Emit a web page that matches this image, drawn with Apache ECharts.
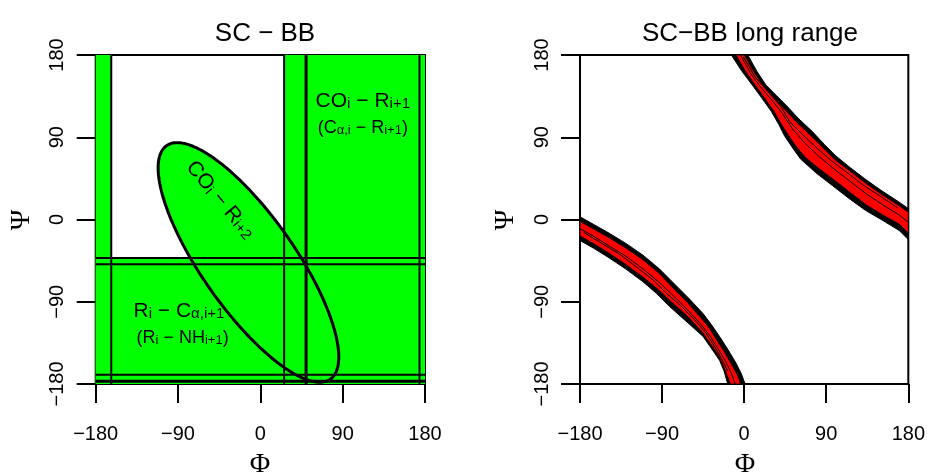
<!DOCTYPE html>
<html>
<head>
<meta charset="utf-8">
<script src="https://cdn.jsdelivr.net/npm/echarts@6/dist/echarts.min.js"></script>
<style>
  html, body { margin: 0; padding: 0; background: #fff; }
  #chart { width: 928px; height: 474px; }
</style>
</head>
<body>
<div id="chart"></div>
<script>
// Backbone dihedral axes (degrees)
const angleTicks = [-180, -90, 0, 90, 180];
const angleTickLabels = ['\u2212180', '\u221290', '0', '90', '180'];
const phiName = '\u03A6';
const psiName = '\u03A8';
const panelTitles = ['SC \u2212 BB', 'SC\u2212BB long range'];

// SC–BB: allowed contact regions in (Φ, Ψ)
const phiStrips = [[-180, -163], [26, 180]];      // Φ ranges of vertical strips
const psiStrips = [[-180, -42]];                  // Ψ ranges of horizontal strip
const phiBoundaries = [-163, 26, 50, 174];
const psiBoundaries = [-42, -49, -170, -177];
const ellipseCOR2 = { phi: -13, psi: -47, major: 156, minor: 51, tilt: 125 };

// SC–BB long range: contact bands (edges as [Φ, Ψ])
const upperBandOuterHigh = [[4, 180], [14, 162], [24, 147], [35, 136], [46, 125], [60, 110], [75, 96], [88, 82], [100, 70], [116, 57], [133, 44], [150, 32], [170, 19], [180, 12]];
const upperBandOuterLow  = [[-14, 180], [-3, 163], [9, 147], [20, 132], [30, 118], [38, 104], [44, 92], [52, 80], [62, 66], [80, 50], [97, 37], [115, 23], [133, 10], [152, -1], [170, -12], [180, -22]];
const upperBandRedHigh   = [[0, 180], [11, 161], [21, 146], [32, 134], [44, 121], [58, 106], [73, 92], [87, 78], [99, 66], [116, 53], [133, 40], [150, 28], [170, 15], [180, 8]];
const upperBandRedLow    = [[-9, 180], [1, 163], [12, 147], [23, 132], [33, 118], [41, 104], [48, 93], [57, 80], [67, 68], [83, 55], [99, 43], [117, 29], [134, 16], [152, 5], [170, -5], [180, -15]];
const upperBandStreakA   = [[-4, 180], [7, 160], [18, 145], [30, 131], [42, 116], [53, 99], [66, 84], [82, 69], [99, 55], [117, 41], [134, 28], [152, 16], [170, 5], [180, -3]];
const upperBandStreakB   = [[-1, 178], [12, 156], [26, 140], [40, 124], [50, 107], [64, 93], [80, 78], [96, 64], [112, 52], [130, 38], [150, 25], [168, 13]];

const lowerBandOuterHigh = [[-180, 3], [-164, -6], [-148, -15], [-130, -26], [-111, -39], [-93, -54], [-75, -72], [-60, -87], [-45, -103], [-36, -115], [-27, -128], [-18, -142], [-9, -157], [-3, -169], [1, -180]];
const lowerBandOuterLow  = [[-180, -23], [-164, -32], [-148, -42], [-130, -54], [-111, -68], [-96, -81], [-82, -95], [-64, -111], [-45, -128], [-36, -141], [-27, -154], [-22, -166], [-18, -180]];
const lowerBandRedHigh   = [[-180, -2], [-164, -11], [-148, -20], [-130, -31], [-111, -44], [-93, -59], [-77, -76], [-62, -91], [-48, -107], [-38, -119], [-30, -132], [-21, -146], [-13, -160], [-7, -171], [-4, -180]];
const lowerBandRedLow    = [[-180, -18], [-164, -27], [-148, -37], [-130, -49], [-111, -63], [-95, -76], [-80, -90], [-62, -106], [-46, -123], [-37, -136], [-28, -149], [-22, -162], [-15, -180]];
const lowerBandStreakA   = [[-180, -10], [-164, -19], [-148, -29], [-130, -40], [-111, -54], [-94, -68], [-78, -83], [-62, -99], [-47, -115], [-37, -128], [-29, -141], [-21, -154], [-14, -168], [-10, -180]];
const lowerBandStreakB   = [[-176, -14], [-158, -25], [-138, -37], [-118, -52], [-100, -66], [-86, -80], [-70, -94], [-54, -110], [-42, -124], [-33, -138], [-25, -152], [-18, -166]];

const GREEN = '#00ff00';
const RED = '#ff0000';
const SANS = '"Liberation Sans", Arial, Helvetica, sans-serif';
const SERIF = '"Liberation Serif", "Times New Roman", serif';

const chart = echarts.init(document.getElementById('chart'), null, { renderer: 'canvas' });

function tickFormatter(v) {
  const i = angleTicks.indexOf(v);
  return i >= 0 ? angleTickLabels[i] : '';
}

function makeXAxis(gridIndex) {
  return {
    type: 'value', gridIndex, min: -180, max: 180, interval: 90,
    axisLine: { show: true, onZero: false, lineStyle: { color: '#000', width: 2 } },
    axisTick: { show: true, inside: false, length: 19, lineStyle: { color: '#000', width: 2 } },
    axisLabel: { margin: 40, fontFamily: SANS, fontSize: 20, color: '#000', formatter: tickFormatter },
    splitLine: { show: false }
  };
}

function makeYAxis(gridIndex) {
  return {
    type: 'value', gridIndex, min: -180, max: 180, interval: 90,
    axisLine: { show: true, onZero: false, lineStyle: { color: '#000', width: 2 } },
    axisTick: { show: true, inside: false, length: 19, lineStyle: { color: '#000', width: 2 } },
    axisLabel: { margin: 28, rotate: 90, fontFamily: SANS, fontSize: 20, color: '#000', formatter: tickFormatter },
    splitLine: { show: false }
  };
}

// Rich text styles for subscripted labels
function richStyles(main, sub) {
  return {
    m: { fontSize: main, fontFamily: SANS, fill: '#000', lineHeight: main + 2, verticalAlign: 'bottom' },
    s: { fontSize: sub, fontFamily: SANS, fill: '#000', lineHeight: sub - 4, verticalAlign: 'bottom' }
  };
}

function labelEl(api, phi, psi, text, main, sub, rotationDeg) {
  const p = api.coord([phi, psi]);
  return {
    type: 'text', x: p[0], y: p[1], rotation: (rotationDeg || 0) * Math.PI / 180,
    style: { text, rich: richStyles(main, sub), align: 'center', verticalAlign: 'middle', fill: '#000' }
  };
}

function renderLeft(params, api) {
  const children = [];
  // green strips
  phiStrips.forEach(([a, b]) => {
    const p0 = api.coord([a, 180]), p1 = api.coord([b, -180]);
    children.push({ type: 'rect', shape: { x: p0[0], y: p0[1], width: p1[0] - p0[0], height: p1[1] - p0[1] }, style: { fill: GREEN } });
  });
  psiStrips.forEach(([a, b]) => {
    const p0 = api.coord([-180, b]), p1 = api.coord([180, a]);
    children.push({ type: 'rect', shape: { x: p0[0], y: p0[1], width: p1[0] - p0[0], height: p1[1] - p0[1] }, style: { fill: GREEN } });
  });
  // tilted ellipse outline
  const e = ellipseCOR2, th = e.tilt * Math.PI / 180;
  const pts = [];
  for (let k = 0; k < 180; k++) {
    const t = k / 180 * 2 * Math.PI;
    const u = e.major * Math.cos(t), v = e.minor * Math.sin(t);
    pts.push(api.coord([e.phi + u * Math.cos(th) - v * Math.sin(th), e.psi + u * Math.sin(th) + v * Math.cos(th)]));
  }
  children.push({ type: 'polygon', shape: { points: pts }, style: { fill: GREEN } });
  // region boundaries
  phiBoundaries.forEach((phi) => {
    const p0 = api.coord([phi, 180]), p1 = api.coord([phi, -180]);
    children.push({ type: 'line', shape: { x1: p0[0], y1: p0[1], x2: p1[0], y2: p1[1] }, style: { stroke: '#000', lineWidth: phi === 50 ? 3 : 2 } });
  });
  psiBoundaries.forEach((psi) => {
    const p0 = api.coord([-180, psi]), p1 = api.coord([180, psi]);
    children.push({ type: 'line', shape: { x1: p0[0], y1: p0[1], x2: p1[0], y2: p1[1] }, style: { stroke: '#000', lineWidth: psi === -177 ? 3 : 2 } });
  });
  children.push({ type: 'polygon', shape: { points: pts }, style: { fill: null, stroke: '#000', lineWidth: 3 } });
  // labels
  children.push(labelEl(api, 112, 131, '{m|CO}{s|i}{m| \u2212 R}{s|i+1}', 21, 15));
  children.push(labelEl(api, 112, 101, '{m|(C}{s|\u03B1,i}{m| \u2212 R}{s|i+1}{m|)}', 18, 13));
  children.push(labelEl(api, -89, -99, '{m|R}{s|i}{m| \u2212 C}{s|\u03B1,i+1}', 21, 15));
  children.push(labelEl(api, -85, -129, '{m|(R}{s|i}{m| \u2212 NH}{s|i+1}{m|)}', 18, 13));
  children.push(labelEl(api, -43, 22, '{m|CO}{s|i}{m| \u2212 R}{s|i+2}', 21, 15, -50));
  return { type: 'group', children };
}

function band(api, high, low, fill, lw) {
  const pts = high.map((p) => api.coord(p)).concat(low.slice().reverse().map((p) => api.coord(p)));
  return { type: 'polygon', shape: { points: pts }, style: { fill, stroke: '#000', lineWidth: lw } };
}

function streak(api, line) {
  return { type: 'polyline', shape: { points: line.map((p) => api.coord(p)) }, style: { stroke: '#000', lineWidth: 1, fill: null } };
}

function renderRight(params, api) {
  const children = [
    band(api, upperBandOuterHigh, upperBandOuterLow, '#000', 1),
    band(api, upperBandRedHigh, upperBandRedLow, RED, 0.8),
    streak(api, upperBandStreakA),
    streak(api, upperBandStreakB),
    band(api, lowerBandOuterHigh, lowerBandOuterLow, '#000', 1),
    band(api, lowerBandRedHigh, lowerBandRedLow, RED, 0.8),
    streak(api, lowerBandStreakA),
    streak(api, lowerBandStreakB)
  ];
  return { type: 'group', children };
}

// Axis titles (Φ below each panel, Ψ to the left)
function axisTitle(text, x, y, rotated) {
  return {
    type: 'text', x, y, rotation: rotated ? Math.PI / 2 : 0,
    style: { text, fontFamily: SERIF, fontSize: 28, fill: '#000', align: 'center', verticalAlign: 'middle' }
  };
}

const option = {
  animation: false,
  backgroundColor: '#fff',
  title: [
    { text: panelTitles[0], left: 260, top: 16, textAlign: 'center', textStyle: { fontFamily: SANS, fontSize: 26, fontWeight: 'normal', color: '#000' } },
    { text: panelTitles[1], left: 745, top: 16, textAlign: 'center', textStyle: { fontFamily: SANS, fontSize: 26, fontWeight: 'normal', color: '#000' } }
  ],
  grid: [
    { left: 95.7, top: 55, width: 329.3, height: 329, show: true, borderColor: '#000', borderWidth: 2, backgroundColor: 'transparent' },
    { left: 580, top: 55, width: 329.3, height: 329, show: true, borderColor: '#000', borderWidth: 2, backgroundColor: 'transparent' }
  ],
  xAxis: [makeXAxis(0), makeXAxis(1)],
  yAxis: [makeYAxis(0), makeYAxis(1)],
  graphic: [
    axisTitle(phiName, 260, 465, false),
    axisTitle(phiName, 745, 465, false),
    axisTitle(psiName, 22, 220, true),
    axisTitle(psiName, 506, 220, true)
  ],
  series: [
    { type: 'custom', xAxisIndex: 0, yAxisIndex: 0, silent: true, data: [0], renderItem: renderLeft, z: 1 },
    { type: 'custom', xAxisIndex: 1, yAxisIndex: 1, silent: true, data: [0], renderItem: renderRight, z: 1 }
  ]
};

chart.setOption(option);
</script>
</body>
</html>
